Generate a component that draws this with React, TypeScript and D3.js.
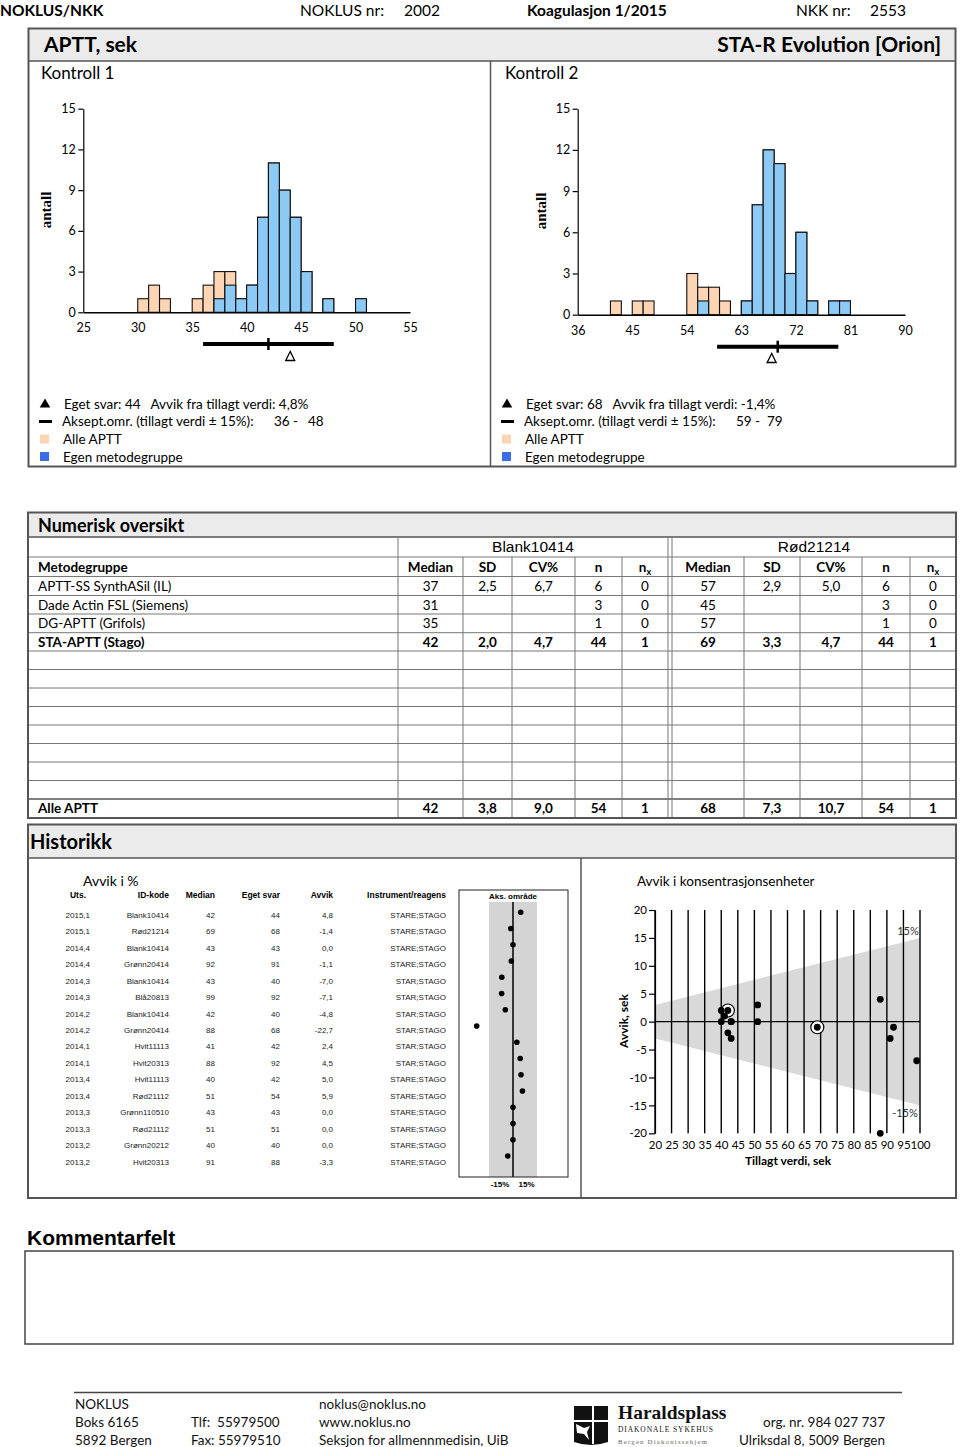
import { useEffect, useRef } from "react";
import * as d3 from "d3";

const W = 960;
const H = 1447;
const FONT = "Lato, 'Open Sans', sans-serif";
const ARIAL = "'Liberation Sans', Arial, sans-serif";
const SERIF = "'Liberation Serif', 'DejaVu Serif', serif";
const BEIGE = "#fcd5b4";
const BAR_BLUE = "#8cc9f4";
const LEGEND_BLUE = "#3b6ee4";
const BAND = "#ebebeb";
const FRAME = "#555";

// header
const analyte = "APTT, sek";
const instrument = "STA-R Evolution [Orion]";

// Kontroll 1 - bins of 1 sek from 25
const k1BinStart = 25;
const k1BinWidth = 1;
const k1Alle = [0, 0, 0, 0, 0, 1, 2, 1, 0, 0, 1, 2, 3, 3, 1, 2, 7, 11, 9, 7, 3, 0, 1, 0, 0, 1, 0, 0, 0, 0];
const k1Egen = [0, 0, 0, 0, 0, 0, 0, 0, 0, 0, 0, 0, 1, 2, 1, 2, 7, 11, 9, 7, 3, 0, 1, 0, 0, 1, 0, 0, 0, 0];
const k1Ticks = [25, 30, 35, 40, 45, 50, 55];
const k1Svar = 44;
const k1Tillagt = 42;
const k1Aksept = [36, 48];
const k1Avvik = "4,8%";

// Kontroll 2 - bins of 1,8 sek from 36
const k2BinStart = 36;
const k2BinWidth = 1.8;
const k2Alle = [0, 0, 0, 1, 0, 1, 1, 0, 0, 0, 3, 2, 2, 1, 0, 1, 8, 12, 11, 3, 6, 1, 0, 1, 1, 0, 0, 0, 0, 0];
const k2Egen = [0, 0, 0, 0, 0, 0, 0, 0, 0, 0, 0, 1, 0, 0, 0, 1, 8, 12, 11, 3, 6, 1, 0, 1, 1, 0, 0, 0, 0, 0];
const k2Ticks = [36, 45, 54, 63, 72, 81, 90];
const k2Svar = 68;
const k2Tillagt = 69;
const k2Aksept = [59, 79];
const k2Avvik = "-1,4%";

const countTicks = [0, 3, 6, 9, 12, 15];

// Numerisk oversikt
const kontrollNavn = ["Blank10414", "Rød21214"];
const statHeaders = ["Median", "SD", "CV%", "n", "nx"];
const metodegrupper = ["APTT-SS SynthASil (IL)", "Dade Actin FSL (Siemens)", "DG-APTT (Grifols)", "STA-APTT (Stago)"];
const blankStats = [
  ["37", "2,5", "6,7", "6", "0"],
  ["31", "", "", "3", "0"],
  ["35", "", "", "1", "0"],
  ["42", "2,0", "4,7", "44", "1"],
];
const rodStats = [
  ["57", "2,9", "5,0", "6", "0"],
  ["45", "", "", "3", "0"],
  ["57", "", "", "1", "0"],
  ["69", "3,3", "4,7", "44", "1"],
];
const egenGruppe = 3;
const alleBlank = ["42", "3,8", "9,0", "54", "1"];
const alleRod = ["68", "7,3", "10,7", "54", "1"];

// Historikk
const histUts = ["2015,1", "2015,1", "2014,4", "2014,4", "2014,3", "2014,3", "2014,2", "2014,2", "2014,1", "2014,1", "2013,4", "2013,4", "2013,3", "2013,3", "2013,2", "2013,2"];
const histId = ["Blank10414", "Rød21214", "Blank10414", "Grønn20414", "Blank10414", "Blå20813", "Blank10414", "Grønn20414", "Hvit11113", "Hvit20313", "Hvit11113", "Rød21112", "Grønn110510", "Rød21112", "Grønn20212", "Hvit20313"];
const histMedian = [42, 69, 43, 92, 43, 99, 42, 88, 41, 88, 40, 51, 43, 51, 40, 91];
const histSvar = [44, 68, 43, 91, 40, 92, 40, 68, 42, 92, 42, 54, 43, 51, 40, 88];
const histAvvik = [4.8, -1.4, 0.0, -1.1, -7.0, -7.1, -4.8, -22.7, 2.4, 4.5, 5.0, 5.9, 0.0, 0.0, 0.0, -3.3];
const histInstr = ["STARE;STAGO", "STARE;STAGO", "STARE;STAGO", "STARE;STAGO", "STAR;STAGO", "STAR;STAGO", "STAR;STAGO", "STAR;STAGO", "STAR;STAGO", "STAR;STAGO", "STARE;STAGO", "STARE;STAGO", "STARE;STAGO", "STARE;STAGO", "STARE;STAGO", "STARE;STAGO"];
const currentRound = "2015,1";
const grenseProsent = 15;
const konsTicksX = d3.range(20, 101, 5);
const konsTicksY = [20, 15, 10, 5, 0, -5, -10, -15, -20];

type Sel = d3.Selection<any, unknown, null, undefined>;
type TOpts = { size?: number; weight?: string | number; anchor?: string; family?: string; fill?: string };

function addText(p: Sel, x: number, y: number, s: string, o: TOpts = {}) {
  return p
    .append("text")
    .attr("x", x)
    .attr("y", y)
    .attr("font-family", o.family ?? FONT)
    .attr("font-size", o.size ?? 14)
    .attr("font-weight", o.weight ?? "normal")
    .attr("text-anchor", o.anchor ?? "start")
    .attr("fill", o.fill ?? "#000")
    .style("white-space", "pre")
    .text(s);
}

type HistCfg = {
  xRange: [number, number];
  yRange: [number, number];
  ticks: number[];
  binStart: number;
  binWidth: number;
  alle: number[];
  egen: number[];
  svar: number;
  tillagt: number;
  aksept: number[];
  barY: number;
  deltaTop: number;
};

function drawHistogram(svg: Sel, c: HistCfg) {
  const x = d3.scaleLinear().domain([c.ticks[0], c.ticks[c.ticks.length - 1]]).range(c.xRange);
  const y = d3.scaleLinear().domain([0, 15]).range(c.yRange);
  const g = svg.append("g");

  const bars = (counts: number[], fill: string) =>
    counts.forEach((n, i) => {
      if (!n) return;
      const lo = c.binStart + i * c.binWidth;
      g.append("rect")
        .attr("x", x(lo))
        .attr("y", y(n))
        .attr("width", x(lo + c.binWidth) - x(lo))
        .attr("height", y(0) - y(n))
        .attr("fill", fill)
        .attr("stroke", "#111")
        .attr("stroke-width", 1.1);
    });
  bars(c.alle, BEIGE);
  bars(c.egen, BAR_BLUE);

  const ya = g
    .append("g")
    .attr("transform", `translate(${c.xRange[0]},0)`)
    .call(d3.axisLeft(y).tickValues(countTicks).tickSize(5).tickSizeOuter(0).tickPadding(2.5));
  ya.selectAll("line,path").attr("stroke", "#000").attr("stroke-width", 1.2);
  ya.selectAll("text").attr("font-family", FONT).attr("font-size", 12.5).attr("fill", "#000");

  const xa = g
    .append("g")
    .attr("transform", `translate(0,${c.yRange[0]})`)
    .call(d3.axisBottom(x).tickValues(c.ticks).tickSize(0).tickPadding(11));
  xa.select(".domain").attr("stroke", "#000").attr("stroke-width", 1.5);
  xa.selectAll("text").attr("font-family", FONT).attr("font-size", 12.5).attr("fill", "#000");

  // acceptance range + assigned value
  g.append("line")
    .attr("x1", x(c.aksept[0]))
    .attr("x2", x(c.aksept[1]))
    .attr("y1", c.barY)
    .attr("y2", c.barY)
    .attr("stroke", "#000")
    .attr("stroke-width", 4);
  g.append("line")
    .attr("x1", x(c.tillagt))
    .attr("x2", x(c.tillagt))
    .attr("y1", c.barY - 6)
    .attr("y2", c.barY + 6)
    .attr("stroke", "#000")
    .attr("stroke-width", 2.5);
  // own answer
  const sx = x(c.svar);
  g.append("path")
    .attr("d", `M${sx},${c.deltaTop}L${sx - 4.5},${c.deltaTop + 9}L${sx + 4.5},${c.deltaTop + 9}Z`)
    .attr("fill", "none")
    .attr("stroke", "#000")
    .attr("stroke-width", 1.3);
}

function drawLegend(svg: Sel, x0: number, svar: number, avvik: string, aksept: number[], rangeX: number[]) {
  const g = svg.append("g");
  g.append("path")
    .attr("d", d3.symbol(d3.symbolTriangle, 48)())
    .attr("transform", `translate(${x0 + 5},404.5)`)
    .attr("fill", "#000");
  addText(g, x0 + 24, 409, `Eget svar: ${svar}   Avvik fra tillagt verdi: ${avvik}`, { size: 13.5 });
  g.append("line")
    .attr("x1", x0 - 1)
    .attr("x2", x0 + 12)
    .attr("y1", 421.5)
    .attr("y2", 421.5)
    .attr("stroke", "#000")
    .attr("stroke-width", 3);
  addText(g, x0 + 22, 426, "Aksept.omr. (tillagt verdi ± 15%):", { size: 13.5 });
  addText(g, rangeX[0], 426, `${aksept[0]} -`, { size: 13.5 });
  addText(g, rangeX[1], 426, `${aksept[1]}`, { size: 13.5 });
  g.append("rect").attr("x", x0).attr("y", 434.5).attr("width", 9).attr("height", 9).attr("fill", BEIGE);
  addText(g, x0 + 23, 444, "Alle APTT", { size: 13.5 });
  g.append("rect").attr("x", x0).attr("y", 452).attr("width", 9).attr("height", 9).attr("fill", LEGEND_BLUE);
  addText(g, x0 + 23, 461.5, "Egen metodegruppe", { size: 13.5 });
}

function drawTable(svg: Sel) {
  const g = svg.append("g");
  const left = 28;
  const right = 956;
  const colEdges = [398, 463, 512, 575, 622, 668];
  const colEdges2 = [672, 744, 800, 862, 910, 956];
  const rowEdges = [537, 557, 576.5, 595.5, 614, 632.7, 651, 669.5, 688, 706.5, 725, 743.5, 762, 780.5, 799, 818];

  g.append("rect").attr("x", left).attr("y", 512.5).attr("width", right - left).attr("height", 24.5).attr("fill", BAND);
  addText(g, 38, 532, "Numerisk oversikt", { size: 18, weight: "bold" });

  rowEdges.forEach((ry, i) => {
    g.append("line")
      .attr("x1", left)
      .attr("x2", right)
      .attr("y1", ry)
      .attr("y2", ry)
      .attr("stroke", i === 0 || i === rowEdges.length - 2 ? FRAME : "#777")
      .attr("stroke-width", i === 0 || i === rowEdges.length - 2 ? 1.6 : 1);
  });
  [...colEdges, ...colEdges2.slice(0, -1)].forEach((cx) => {
    const full = cx === 398 || cx === 668 || cx === 672;
    g.append("line")
      .attr("x1", cx)
      .attr("x2", cx)
      .attr("y1", full ? rowEdges[0] : rowEdges[1])
      .attr("y2", 818)
      .attr("stroke", "#777")
      .attr("stroke-width", 1);
  });
  g.append("rect")
    .attr("x", left)
    .attr("y", 512.5)
    .attr("width", right - left)
    .attr("height", 305.5)
    .attr("fill", "none")
    .attr("stroke", FRAME)
    .attr("stroke-width", 2);

  const mid = (edges: number[], j: number) => (edges[j] + edges[j + 1]) / 2;
  const base = (i: number) => (rowEdges[i] + rowEdges[i + 1]) / 2 + 4.8;

  addText(g, (colEdges[0] + colEdges[5]) / 2, base(0) + 0.5, kontrollNavn[0], { family: ARIAL, size: 15.5, anchor: "middle" });
  addText(g, (colEdges2[0] + colEdges2[5]) / 2, base(0) + 0.5, kontrollNavn[1], { family: ARIAL, size: 15.5, anchor: "middle" });

  addText(g, 38, base(1), "Metodegruppe", { size: 13.5, weight: "bold" });
  [colEdges, colEdges2].forEach((edges) =>
    statHeaders.forEach((h, j) => {
      const t = addText(g, mid(edges, j), base(1), h === "nx" ? "n" : h, { size: 13.5, weight: "bold", anchor: "middle" });
      if (h === "nx") t.append("tspan").attr("font-size", 9).attr("dy", 3).text("x");
    })
  );

  metodegrupper.forEach((m, i) => {
    const bold = i === egenGruppe ? "bold" : "normal";
    addText(g, 38, base(i + 2), m, { size: 13.5, weight: bold });
    blankStats[i].forEach((v, j) => addText(g, mid(colEdges, j), base(i + 2), v, { size: 13.5, weight: bold, anchor: "middle" }));
    rodStats[i].forEach((v, j) => addText(g, mid(colEdges2, j), base(i + 2), v, { size: 13.5, weight: bold, anchor: "middle" }));
  });

  const last = rowEdges.length - 2;
  addText(g, 38, base(last), "Alle APTT", { size: 13.5, weight: "bold" });
  alleBlank.forEach((v, j) => addText(g, mid(colEdges, j), base(last), v, { size: 13.5, weight: "bold", anchor: "middle" }));
  alleRod.forEach((v, j) => addText(g, mid(colEdges2, j), base(last), v, { size: 13.5, weight: "bold", anchor: "middle" }));
}

function drawHistory(svg: Sel) {
  const g = svg.append("g");
  g.append("rect").attr("x", 28).attr("y", 824.5).attr("width", 928).attr("height", 33.5).attr("fill", BAND);
  g.append("line").attr("x1", 28).attr("x2", 956).attr("y1", 858).attr("y2", 858).attr("stroke", FRAME).attr("stroke-width", 1.5);
  g.append("line").attr("x1", 581).attr("x2", 581).attr("y1", 858).attr("y2", 1198).attr("stroke", FRAME).attr("stroke-width", 1.5);
  g.append("rect")
    .attr("x", 28)
    .attr("y", 824.5)
    .attr("width", 928)
    .attr("height", 373.5)
    .attr("fill", "none")
    .attr("stroke", FRAME)
    .attr("stroke-width", 2);
  addText(g, 30, 849, "Historikk", { size: 20, weight: "bold" });

  // --- avvik i % table
  addText(g, 83, 886, "Avvik i %", { size: 14 });
  const hdr = { family: ARIAL, size: 8.5, weight: "bold" };
  addText(g, 78, 898, "Uts.", { ...hdr, anchor: "middle" });
  addText(g, 169, 898, "ID-kode", { ...hdr, anchor: "end" });
  addText(g, 215, 898, "Median", { ...hdr, anchor: "end" });
  addText(g, 280, 898, "Eget svar", { ...hdr, anchor: "end" });
  addText(g, 333, 898, "Avvik", { ...hdr, anchor: "end" });
  addText(g, 446, 898, "Instrument/reagens", { ...hdr, anchor: "end" });

  const rowY = d3.scaleLinear().domain([0, histUts.length - 1]).range([918, 1164.5]);
  const cell = { family: ARIAL, size: 8, fill: "#222" };
  histUts.forEach((u, i) => {
    const yy = rowY(i);
    addText(g, 90, yy, u, { ...cell, anchor: "end" });
    addText(g, 169, yy, histId[i], { ...cell, anchor: "end" });
    addText(g, 215, yy, String(histMedian[i]), { ...cell, anchor: "end" });
    addText(g, 280, yy, String(histSvar[i]), { ...cell, anchor: "end" });
    addText(g, 333, yy, histAvvik[i].toFixed(1).replace(".", ","), { ...cell, anchor: "end" });
    addText(g, 446, yy, histInstr[i], { ...cell, anchor: "end" });
  });

  // acceptance strip
  const ax = d3.scaleLinear().domain([-grenseProsent, grenseProsent]).range([489, 537]);
  const dotY = d3.scaleLinear().domain([0, histUts.length - 1]).range([912.3, 1156]);
  g.append("rect").attr("x", ax(-grenseProsent)).attr("y", 902).attr("width", ax(grenseProsent) - ax(-grenseProsent)).attr("height", 275).attr("fill", "#d4d4d4");
  g.append("line").attr("x1", ax(0)).attr("x2", ax(0)).attr("y1", 902).attr("y2", 1177).attr("stroke", "#000").attr("stroke-width", 1.5);
  g.append("rect").attr("x", 459).attr("y", 890).attr("width", 109).attr("height", 287).attr("fill", "none").attr("stroke", "#222").attr("stroke-width", 1);
  addText(g, ax(0), 899, "Aks. område", { family: ARIAL, size: 8, weight: "bold", anchor: "middle" });
  addText(g, 500, 1186.5, `-${grenseProsent}%`, { family: ARIAL, size: 8, weight: "bold", anchor: "middle" });
  addText(g, 526.5, 1186.5, `${grenseProsent}%`, { family: ARIAL, size: 8, weight: "bold", anchor: "middle" });
  histAvvik.forEach((a, i) => {
    g.append("circle").attr("cx", ax(a)).attr("cy", dotY(i)).attr("r", 2.8).attr("fill", "#000");
  });

  // --- avvik i konsentrasjonsenheter
  addText(g, 637, 886, "Avvik i konsentrasjonsenheter", { size: 13.5 });
  const x = d3.scaleLinear().domain([20, 100]).range([655, 920]);
  const y = d3.scaleLinear().domain([-20, 20]).range([1133.3, 910]);
  const k = grenseProsent / 100;
  const cone: [number, number][] = [
    [20, 20 * k],
    [100, 100 * k],
    [100, -100 * k],
    [20, -20 * k],
  ];
  g.append("path")
    .attr("d", d3.line<[number, number]>().x((d) => x(d[0])).y((d) => y(d[1]))(cone) + "Z")
    .attr("fill", "#d9d9d9");
  konsTicksX.forEach((t) => {
    g.append("line").attr("x1", x(t)).attr("x2", x(t)).attr("y1", y(20)).attr("y2", y(-20)).attr("stroke", "#000").attr("stroke-width", 1.4);
  });
  g.append("line").attr("x1", x(20)).attr("x2", x(100)).attr("y1", y(0)).attr("y2", y(0)).attr("stroke", "#000").attr("stroke-width", 1.4);

  const ya = g
    .append("g")
    .attr("transform", `translate(${x(20)},0)`)
    .call(
      d3
        .axisLeft(y)
        .tickValues(konsTicksY)
        .tickFormat((d) => String(d))
        .tickSize(6)
        .tickSizeOuter(0)
        .tickPadding(2)
    );
  ya.selectAll("line,path").attr("stroke", "#000").attr("stroke-width", 1.2);
  ya.selectAll("text").attr("font-family", FONT).attr("font-size", 11.5).attr("fill", "#000");
  const xa = g.append("g").attr("transform", `translate(0,${y(-20)})`).call(d3.axisBottom(x).tickValues(konsTicksX).tickSize(0).tickPadding(8));
  xa.select(".domain").remove();
  xa.selectAll("text").attr("font-family", FONT).attr("font-size", 11.5).attr("fill", "#000");

  addText(g, 908, 935, `${grenseProsent}%`, { size: 11, anchor: "middle", fill: "#333" });
  addText(g, 905, 1116.5, `-${grenseProsent}%`, { size: 11, anchor: "middle", fill: "#333" });
  addText(g, 788, 1165, "Tillagt verdi, sek", { size: 12, weight: "bold", anchor: "middle" });
  addText(g, 0, 0, "Avvik, sek", { size: 12, weight: "bold", anchor: "middle" }).attr("transform", "translate(628,1021) rotate(-90)");

  histMedian.forEach((m, i) => {
    const cx = x(m);
    const cy = y(histSvar[i] - m);
    if (histUts[i] === currentRound) {
      g.append("circle").attr("cx", cx).attr("cy", cy).attr("r", 6.5).attr("fill", "#fff").attr("stroke", "#000").attr("stroke-width", 1.2);
    }
    g.append("circle").attr("cx", cx).attr("cy", cy).attr("r", 3.4).attr("fill", "#000");
  });
}

function drawFooter(svg: Sel) {
  const g = svg.append("g");
  addText(g, 27, 1245, "Kommentarfelt", { family: ARIAL, size: 21, weight: "bold" });
  g.append("rect").attr("x", 25).attr("y", 1251).attr("width", 928).attr("height", 93).attr("fill", "none").attr("stroke", "#444").attr("stroke-width", 1.5);

  g.append("line").attr("x1", 74).attr("x2", 902).attr("y1", 1392.5).attr("y2", 1392.5).attr("stroke", "#444").attr("stroke-width", 1.5);
  const f = { size: 13.5, fill: "#111" };
  addText(g, 75, 1409, "NOKLUS", f);
  addText(g, 75, 1427, "Boks 6165", f);
  addText(g, 75, 1445, "5892 Bergen", f);
  addText(g, 191, 1427, "Tlf:  55979500", f);
  addText(g, 191, 1445, "Fax: 55979510", f);
  addText(g, 319, 1409, "noklus@noklus.no", f);
  addText(g, 319, 1427, "www.noklus.no", f);
  addText(g, 319, 1445, "Seksjon for allmennmedisin, UiB", f);
  addText(g, 885, 1427, "org. nr. 984 027 737", { ...f, anchor: "end" });
  addText(g, 885, 1445, "Ulriksdal 8, 5009 Bergen", { ...f, anchor: "end" });

  // Haraldsplass logo
  g.append("path").attr("d", "M574,1406 h34 v36 q-17,6 -34,0 z").attr("fill", "#111");
  g.append("line").attr("x1", 593).attr("x2", 593).attr("y1", 1406).attr("y2", 1444).attr("stroke", "#fff").attr("stroke-width", 2);
  g.append("line").attr("x1", 574).attr("x2", 608).attr("y1", 1421).attr("y2", 1421).attr("stroke", "#fff").attr("stroke-width", 2);
  g.append("path").attr("d", "M576,1424 l8,4 l6,-2 l-3,6 l2,8 l-5,-6 l-7,-1 z").attr("fill", "#fff");
  addText(g, 618, 1419, "Haraldsplass", { family: SERIF, size: 19.5, weight: "bold", fill: "#111" });
  addText(g, 618, 1432, "DIAKONALE SYKEHUS", { family: SERIF, size: 7.5, fill: "#111" }).attr("letter-spacing", 0.9);
  addText(g, 618, 1443.5, "Bergen Diakonissehjem", { family: SERIF, size: 6.8, fill: "#666" }).attr("letter-spacing", 1.2);
}

export default function App() {
  const svgRef = useRef<SVGSVGElement | null>(null);

  useEffect(() => {
    document.body.style.margin = "0";
    const svg = d3.select(svgRef.current) as Sel;
    svg.selectAll("*").remove();
    svg.append("rect").attr("width", W).attr("height", H).attr("fill", "#fff");

    // page header
    addText(svg, 0, 15.5, "NOKLUS/NKK", { size: 15.5, weight: "bold" });
    addText(svg, 300, 15.5, "NOKLUS nr:", { size: 15.5 });
    addText(svg, 404, 15.5, "2002", { size: 15.5 });
    addText(svg, 527, 15.5, "Koagulasjon 1/2015", { size: 15.5, weight: "bold" });
    addText(svg, 796, 15.5, "NKK nr:", { size: 15.5 });
    addText(svg, 870, 15.5, "2553", { size: 15.5 });

    // histogram frame
    svg.append("rect").attr("x", 28.5).attr("y", 28.5).attr("width", 927).attr("height", 32.5).attr("fill", BAND);
    svg.append("line").attr("x1", 28).attr("x2", 956).attr("y1", 61).attr("y2", 61).attr("stroke", FRAME).attr("stroke-width", 1.5);
    svg.append("line").attr("x1", 490.5).attr("x2", 490.5).attr("y1", 61).attr("y2", 466).attr("stroke", FRAME).attr("stroke-width", 1.5);
    svg.append("rect").attr("x", 28.5).attr("y", 28.5).attr("width", 927).attr("height", 438).attr("fill", "none").attr("stroke", FRAME).attr("stroke-width", 2);
    addText(svg, 44, 52, analyte, { size: 21, weight: "bold" });
    addText(svg, 941, 52, instrument, { size: 21, weight: "bold", anchor: "end" });
    addText(svg, 41, 79, "Kontroll 1", { size: 17 });
    addText(svg, 505, 79, "Kontroll 2", { size: 17 });
    addText(svg, 0, 0, "antall", { family: SERIF, size: 15, weight: "bold" })
      .attr("text-anchor", "middle")
      .attr("transform", "translate(51,210) rotate(-90)");
    addText(svg, 0, 0, "antall", { family: SERIF, size: 15, weight: "bold" })
      .attr("text-anchor", "middle")
      .attr("transform", "translate(546,211) rotate(-90)");

    drawHistogram(svg, {
      xRange: [83.3, 410],
      yRange: [312.3, 108.7],
      ticks: k1Ticks,
      binStart: k1BinStart,
      binWidth: k1BinWidth,
      alle: k1Alle,
      egen: k1Egen,
      svar: k1Svar,
      tillagt: k1Tillagt,
      aksept: k1Aksept,
      barY: 344,
      deltaTop: 351.5,
    });
    drawHistogram(svg, {
      xRange: [577.7, 905],
      yRange: [314.7, 108.7],
      ticks: k2Ticks,
      binStart: k2BinStart,
      binWidth: k2BinWidth,
      alle: k2Alle,
      egen: k2Egen,
      svar: k2Svar,
      tillagt: k2Tillagt,
      aksept: k2Aksept,
      barY: 346.7,
      deltaTop: 353.5,
    });
    drawLegend(svg, 40, k1Svar, k1Avvik, k1Aksept, [274, 308]);
    drawLegend(svg, 502, k2Svar, k2Avvik, k2Aksept, [736, 767]);

    drawTable(svg);
    drawHistory(svg);
    drawFooter(svg);
  }, []);

  return <svg ref={svgRef} width={W} height={H} style={{ display: "block" }}></svg>;
}
